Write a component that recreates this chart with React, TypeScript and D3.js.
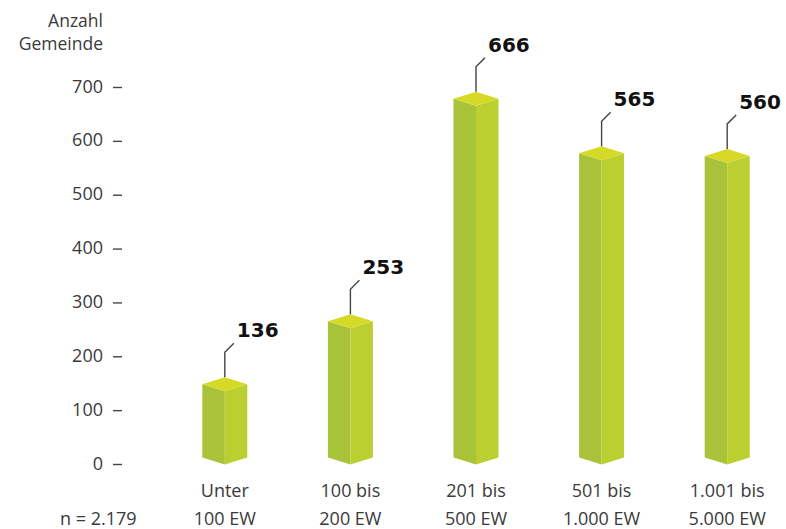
import React from "react";
import * as d3 from "d3";

const categories: string[][] = [
  ["Unter", "100 EW"],
  ["100 bis", "200 EW"],
  ["201 bis", "500 EW"],
  ["501 bis", "1.000 EW"],
  ["1.001 bis", "5.000 EW"],
];
const values: number[] = [136, 253, 666, 565, 560];
const ticks: number[] = [0, 100, 200, 300, 400, 500, 600, 700];
const yTitle: string[] = ["Anzahl", "Gemeinde"];
const note = "n = 2.179";

const W = 786;
const H = 529;

export default function App() {
  const y = d3.scaleLinear().domain([0, 700]).range([464.5, 87.5]);
  const x = d3
    .scaleBand<number>()
    .domain(d3.range(values.length))
    .range([162, 790])
    .paddingInner(0.64)
    .paddingOuter(0.32);
  const bw = 45;
  const dh = 7; // half-height of the top rhombus
  const font = "'Open Sans', 'Noto Sans', sans-serif";
  const textCol = "#3a3a3a";

  return (
    <svg
      width={W}
      height={H}
      style={{ position: "absolute", left: 0, top: 0, background: "#fff" }}
    >
      {/* y title */}
      {yTitle.map((t, i) => (
        <text
          key={t}
          x={103}
          y={27 + i * 23}
          textAnchor="end"
          fontFamily={font}
          fontSize={17.5}
          fill={textCol}
        >
          {t}
        </text>
      ))}
      {/* ticks */}
      {ticks.map((t) => (
        <g key={t}>
          <text
            x={103}
            y={y(t) + 5}
            textAnchor="end"
            fontFamily={font}
            fontSize={18}
            fill={textCol}
          >
            {t}
          </text>
          <line
            x1={113}
            x2={122}
            y1={y(t)}
            y2={y(t)}
            stroke="#444"
            strokeWidth={1.4}
          />
        </g>
      ))}
      {/* bars */}
      {values.map((v, i) => {
        const cx = (x(i) as number) + x.bandwidth() / 2;
        const l = cx - bw / 2;
        const r = cx + bw / 2;
        const yt = y(v); // front vertex of top
        const yb = y(0); // bottom front vertex
        const left = `M${l},${yt - dh} L${cx},${yt} L${cx},${yb} L${l},${yb - dh} Z`;
        const right = `M${cx},${yt} L${r},${yt - dh} L${r},${yb - dh} L${cx},${yb} Z`;
        const top = `M${l},${yt - dh} L${cx},${yt - 2 * dh} L${r},${yt - dh} L${cx},${yt} Z`;
        const lx = cx;
        const ly0 = yt - 2 * dh;
        const ly1 = ly0 - 25;
        const ex = lx + 9;
        const ey = ly1 - 9;
        return (
          <g key={i}>
            <path d={left} fill="#a8c23a" />
            <path d={right} fill="#bccf31" />
            <path d={top} fill="#d6da26" />
            <polyline
              points={`${lx},${ly0} ${lx},${ly1} ${ex},${ey}`}
              fill="none"
              stroke="#444"
              strokeWidth={1.4}
            />
            <text
              x={ex + 3}
              y={ey - 6}
              fontFamily="'DejaVu Sans', sans-serif"
              fontWeight="bold"
              fontSize={20}
              fill="#111"
            >
              {v}
            </text>
            {categories[i].map((c, j) => (
              <text
                key={j}
                x={cx}
                y={497 + j * 28}
                textAnchor="middle"
                fontFamily={font}
                fontSize={18}
                fill={textCol}
              >
                {c}
              </text>
            ))}
          </g>
        );
      })}
      <text x={60} y={525} fontFamily={font} fontSize={18} fill={textCol}>
        {note}
      </text>
    </svg>
  );
}
